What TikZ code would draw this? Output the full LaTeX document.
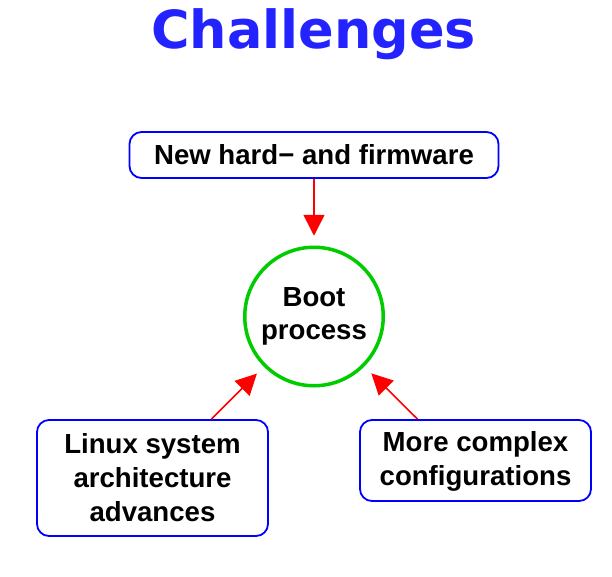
\documentclass[tikz,border=0pt]{standalone}
\usepackage{fontspec}
\setmainfont{Liberation Sans}
\newfontfamily\headfont{DejaVu Sans}
\usetikzlibrary{arrows.meta,positioning,calc}
\definecolor{titleblue}{RGB}{35,35,255}
\definecolor{boxblue}{RGB}{0,0,255}
\definecolor{ringgreen}{RGB}{0,204,0}

\tikzset{
    challenge/.style={draw=boxblue, line width=1.8pt, rounded corners=12pt, align=center, inner sep=0pt,
        font=\fontsize{27.6}{34}\selectfont\bfseries},
    effect/.style={red, line width=1.6pt, -{Triangle[length=21pt,width=21pt]}},
}

\begin{document}
\begin{tikzpicture}[x=1pt,y=-1pt]
    \useasboundingbox (0,0) rectangle (612,576);
    \node (title) at (313.5,48) [anchor=base, text=titleblue, font=\headfont\bfseries\fontsize{52.5}{60}\selectfont] {Challenges};
    \node (boot) at (314,316.5) [circle, draw=ringgreen, line width=3.5pt, minimum size=138.5pt, outer sep=11.5pt,
        align=center, font=\fontsize{27.6}{33}\selectfont\bfseries] {Boot\\process};
    \node (hw) at (314,155) [challenge, minimum width=369pt, minimum height=46pt] {New hard− and firmware};
    \node (linux) at (152.5,478) [challenge, minimum width=231pt, minimum height=116pt] {Linux system\\architecture\\advances};
    \node (cfg) at (475.5,460.5) [challenge, minimum width=231pt, minimum height=81pt, text depth=4pt] {More complex\\configurations};
    \draw[effect] (hw) -- (boot);
    \draw[effect] (linux) -- (boot);
    \draw[effect] ($(cfg.north)+(-58,0)$) -- (boot);
\end{tikzpicture}
\end{document}
